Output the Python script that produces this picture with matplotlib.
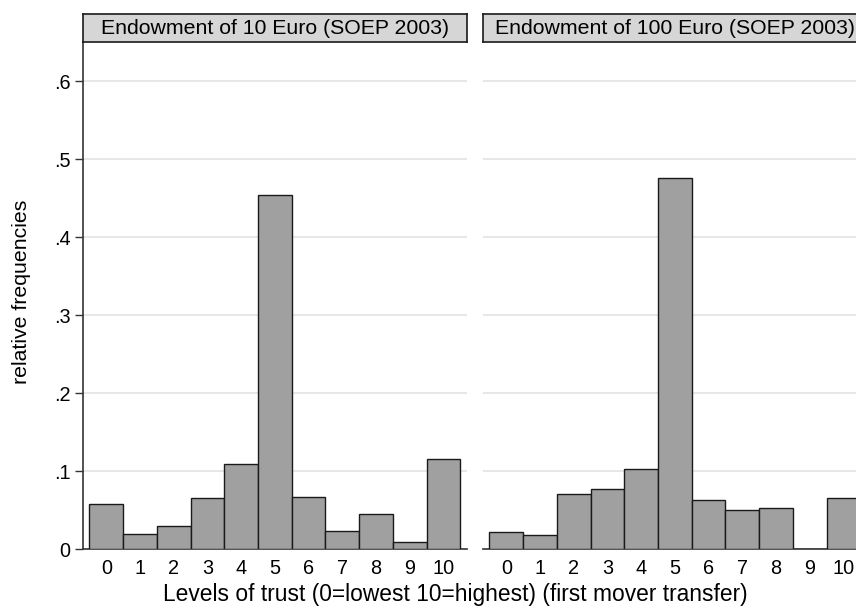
import numpy as np
import matplotlib
matplotlib.use('Agg')
import matplotlib.pyplot as plt

plt.rcParams['font.family'] = ['Liberation Sans', 'DejaVu Sans']

# trust levels and relative frequencies
levels = list(range(11))
freq_10 = [0.058, 0.020, 0.030, 0.066, 0.110, 0.454, 0.067, 0.023, 0.045, 0.009, 0.116]
freq_100 = [0.022, 0.018, 0.071, 0.077, 0.103, 0.476, 0.063, 0.050, 0.053, 0.0, 0.066]
titles = ['Endowment of 10 Euro (SOEP 2003)', 'Endowment of 100 Euro (SOEP 2003)']
yticks = [0, 0.1, 0.2, 0.3, 0.4, 0.5, 0.6]
ytick_labels = ['0', '.1', '.2', '.3', '.4', '.5', '.6']

W, H = 856, 614
fig = plt.figure(figsize=(W / 100, H / 100), dpi=100)

fs_tick = 14.3
fs_title = 15.3
fs_label = 16.4
panel_w = 384 / W
bottom = (H - 549.3) / H
top = (H - 42) / H
strip_top = (H - 14) / H
lefts = [83 / W, 483 / W]

for i, (vals, title) in enumerate(zip([freq_10, freq_100], titles)):
    ax = fig.add_axes([lefts[i], bottom, panel_w, top - bottom])
    ax.bar(levels, vals, width=1.0, color='#a0a0a0', edgecolor='#1a1a1a',
           linewidth=1.0, zorder=3)
    ax.set_xlim(-0.69, 10.7)
    ax.set_ylim(0, 0.6506)
    ax.set_yticks(yticks)
    ax.yaxis.grid(True, color='#e3e3e3', linewidth=1.2, zorder=0)
    ax.set_xticks(levels)
    ax.set_xticklabels([str(v) for v in levels], fontsize=fs_tick)
    ax.tick_params(axis='x', length=0, pad=7)
    for s in ['top', 'right']:
        ax.spines[s].set_visible(False)
    ax.spines['bottom'].set_color('#333333')
    ax.spines['bottom'].set_linewidth(1.2)
    if i == 0:
        ax.set_yticklabels(ytick_labels, fontsize=fs_tick)
        ax.tick_params(axis='y', length=6, width=1, color='#333333', pad=3)
        ax.spines['left'].set_color('#333333')
        ax.spines['left'].set_linewidth(1.2)
    else:
        ax.spines['left'].set_visible(False)
        ax.tick_params(axis='y', length=0, labelleft=False)
    # no gridline at 0, the axis sits there
    ax.get_ygridlines()[0].set_visible(False)

    # title strip
    sax = fig.add_axes([lefts[i], top, panel_w, strip_top - top])
    sax.set_facecolor('#d6d6d6')
    sax.set_xticks([])
    sax.set_yticks([])
    for s in sax.spines.values():
        s.set_color('#1a1a1a')
        s.set_linewidth(1.2)
    sax.text(0.5, 0.5, title, ha='center', va='center', fontsize=fs_title,
             transform=sax.transAxes)

fig.text(21.5 / W, (H - 292) / H, 'relative frequencies', rotation=90,
         ha='center', va='center', fontsize=fs_title)
fig.text(455 / W, (H - 595) / H, 'Levels of trust (0=lowest 10=highest) (first mover transfer)',
         ha='center', va='center', fontsize=fs_label)

fig.savefig('out.png', dpi=100)
